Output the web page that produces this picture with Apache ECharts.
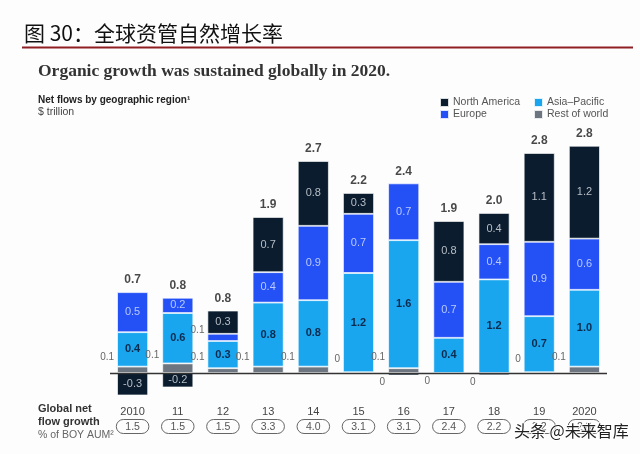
<!DOCTYPE html>
<html>
<head>
<meta charset="utf-8">
<script src="https://cdn.jsdelivr.net/npm/echarts@6/dist/echarts.min.js"></script>
<style>
  html, body { margin: 0; padding: 0; background: #fdfdfd; }
  #chart { width: 640px; height: 454px; }
</style>
</head>
<body>
<div id="chart"></div>
<script>
// ---- data ----
const categories   = ['2010', '11', '12', '13', '14', '15', '16', '17', '18', '19', '2020'];
const northAmerica = [-0.28, -0.18, 0.29, 0.69, 0.81, 0.26, -0.03, 0.76, 0.39, 1.11, 1.16];
const europe       = [0.50, 0.19, 0.09, 0.38, 0.93, 0.74, 0.71, 0.70, 0.44, 0.93, 0.64];
const asiaPacific  = [0.43, 0.63, 0.34, 0.80, 0.83, 1.24, 1.60, 0.44, 1.17, 0.70, 0.96];
const restOfWorld  = [0.08, 0.12, 0.06, 0.08, 0.08, 0.01, 0.06, 0.00, -0.03, 0.01, 0.08];
const totals       = ['0.7', '0.8', '0.8', '1.9', '2.7', '2.2', '2.4', '1.9', '2.0', '2.8', '2.8'];
const growth       = ['1.5', '1.5', '1.5', '3.3', '4.0', '3.1', '3.1', '2.4', '2.2', '3.2', '2.8'];

const COLORS = {
  na: '#0a1c2e', eu: '#2451f5', ap: '#1aa6ef', row: '#6d7680'
};
const FONT = '"Liberation Sans", Arial, sans-serif';

function fmt(v) {
  const r = Math.round(v * 10) / 10;
  return (r === 0) ? '0' : r.toFixed(1);
}

function makeData(arr, insideColor, insideWeight, upOffset) {
  return arr.map(v => {
    const item = { value: v };
    if (Math.abs(v) >= 0.15) {
      item.label = { show: true, position: 'inside', color: insideColor, fontWeight: insideWeight,
                     fontSize: 11, fontFamily: FONT, formatter: fmt(v) };
    } else if (v > 0) {
      item.label = { show: true, position: 'left', distance: 3, offset: [0, upOffset],
                     color: '#666', fontSize: 10, fontFamily: FONT, formatter: fmt(v) };
    } else {
      item.label = { show: true, position: 'left', distance: 3, offset: [0, 8],
                     color: '#666', fontSize: 10, fontFamily: FONT, formatter: fmt(v) };
    }
    return item;
  });
}

// top of positive stack, used to place the total label
const positiveTop = categories.map((c, i) =>
  [northAmerica[i], europe[i], asiaPacific[i], restOfWorld[i]].filter(v => v > 0).reduce((a, b) => a + b, 0));

const barCommon = {
  type: 'bar', stack: 'flows', barWidth: 31,
  itemStyle: { borderColor: 'rgba(255,255,255,0.85)', borderWidth: 0.8 },
  emphasis: { disabled: true }
};

const legendCommon = {
  top: 92, orient: 'vertical', itemWidth: 9, itemHeight: 9, itemGap: 1,
  icon: 'rect', textStyle: { fontSize: 10.5, color: '#555', fontFamily: FONT, padding: [0, 0, 0, -1] }
};

const chart = echarts.init(document.getElementById('chart'), null, { renderer: 'canvas' });
chart.setOption({
  backgroundColor: '#fdfdfd',
  animation: false,
  grid: { left: 110, right: 33, top: 133, bottom: 53, containLabel: false },
  xAxis: {
    type: 'category', data: categories,
    axisLine: { show: false, onZero: false }, axisTick: { show: false },
    axisLabel: {
      margin: 6, interval: 0,
      formatter: (val, idx) => '{y|' + val + '}\n{g|' + growth[idx] + '}',
      rich: {
        y: { fontSize: 11, color: '#444', fontFamily: FONT, lineHeight: 14, padding: [0, 0, 5, 0] },
        g: { fontSize: 10.5, color: '#555', fontFamily: FONT, borderColor: '#666', borderWidth: 1,
             borderRadius: 9, padding: [2, 9, 1, 9], lineHeight: 11 }
      }
    }
  },
  yAxis: { type: 'value', min: -0.35, max: 3.0, show: false, splitLine: { show: false } },
  legend: [
    Object.assign({ left: 434, data: ['North America', 'Europe'] }, legendCommon),
    Object.assign({ left: 528, data: ['Asia–Pacific', 'Rest of world'] }, legendCommon)
  ],
  series: [
    Object.assign({}, barCommon, { name: 'Rest of world', color: COLORS.row,
      data: makeData(restOfWorld, '#fff', 'normal', -13) }),
    Object.assign({}, barCommon, { name: 'Asia–Pacific', color: COLORS.ap,
      data: makeData(asiaPacific, '#0d2b4e', 'bold', -8) }),
    Object.assign({}, barCommon, { name: 'Europe', color: COLORS.eu,
      data: makeData(europe, '#b9c9ff', 'normal', -7) }),
    Object.assign({}, barCommon, { name: 'North America', color: COLORS.na,
      data: makeData(northAmerica, '#b8bec6', 'normal', -8) }),
    {
      type: 'scatter', name: 'total', symbolSize: 0.1, itemStyle: { color: 'rgba(0,0,0,0)' },
      data: positiveTop,
      label: { show: true, position: 'top', distance: 6, color: '#1a1a1a', fontWeight: 'bold',
               fontSize: 12, fontFamily: FONT, formatter: p => totals[p.dataIndex] },
      markLine: { silent: true, symbol: ['none', 'none'], label: { show: false },
                  lineStyle: { color: '#333', width: 1.3, type: 'solid' },
                  data: [{ yAxis: 0 }] },
      z: 5
    }
  ],
  graphic: [
    { type: 'text', left: 24, top: 23, style: { text: '图 30：全球资管自然增长率', fontSize: 21,
      fontFamily: '"Noto Sans CJK SC", sans-serif', fill: '#111' } },
    { type: 'line', shape: { x1: 22, y1: 47.5, x2: 633, y2: 47.5 },
      style: { stroke: '#8e1f22', lineWidth: 2 } },
    { type: 'text', left: 38, top: 62, style: { text: 'Organic growth was sustained globally in 2020.',
      fontSize: 17.5, fontWeight: 'bold', fontFamily: '"Liberation Serif", "DejaVu Serif", serif', fill: '#333' } },
    { type: 'text', left: 38, top: 95, style: { text: 'Net flows by geographic region¹',
      fontSize: 10, fontWeight: 'bold', fontFamily: FONT, fill: '#222' } },
    { type: 'text', left: 38, top: 107, style: { text: '$ trillion',
      fontSize: 10.5, fontFamily: FONT, fill: '#444' } },
    { type: 'text', left: 38, top: 403, style: { text: 'Global net',
      fontSize: 11, fontWeight: 'bold', fontFamily: FONT, fill: '#333' } },
    { type: 'text', left: 38, top: 416, style: { text: 'flow growth',
      fontSize: 11, fontWeight: 'bold', fontFamily: FONT, fill: '#333' } },
    { type: 'text', left: 38, top: 430, style: { text: '% of BOY AUM²',
      fontSize: 10.5, fontFamily: FONT, fill: '#666' } },
    { type: 'text', left: 513, top: 422, z: 100, style: { text: '头条 @未来智库', fontSize: 16,
      fontFamily: '"Noto Sans CJK SC", sans-serif', fill: '#222', stroke: '#fff', lineWidth: 2 } }
  ]
});
</script>
</body>
</html>
